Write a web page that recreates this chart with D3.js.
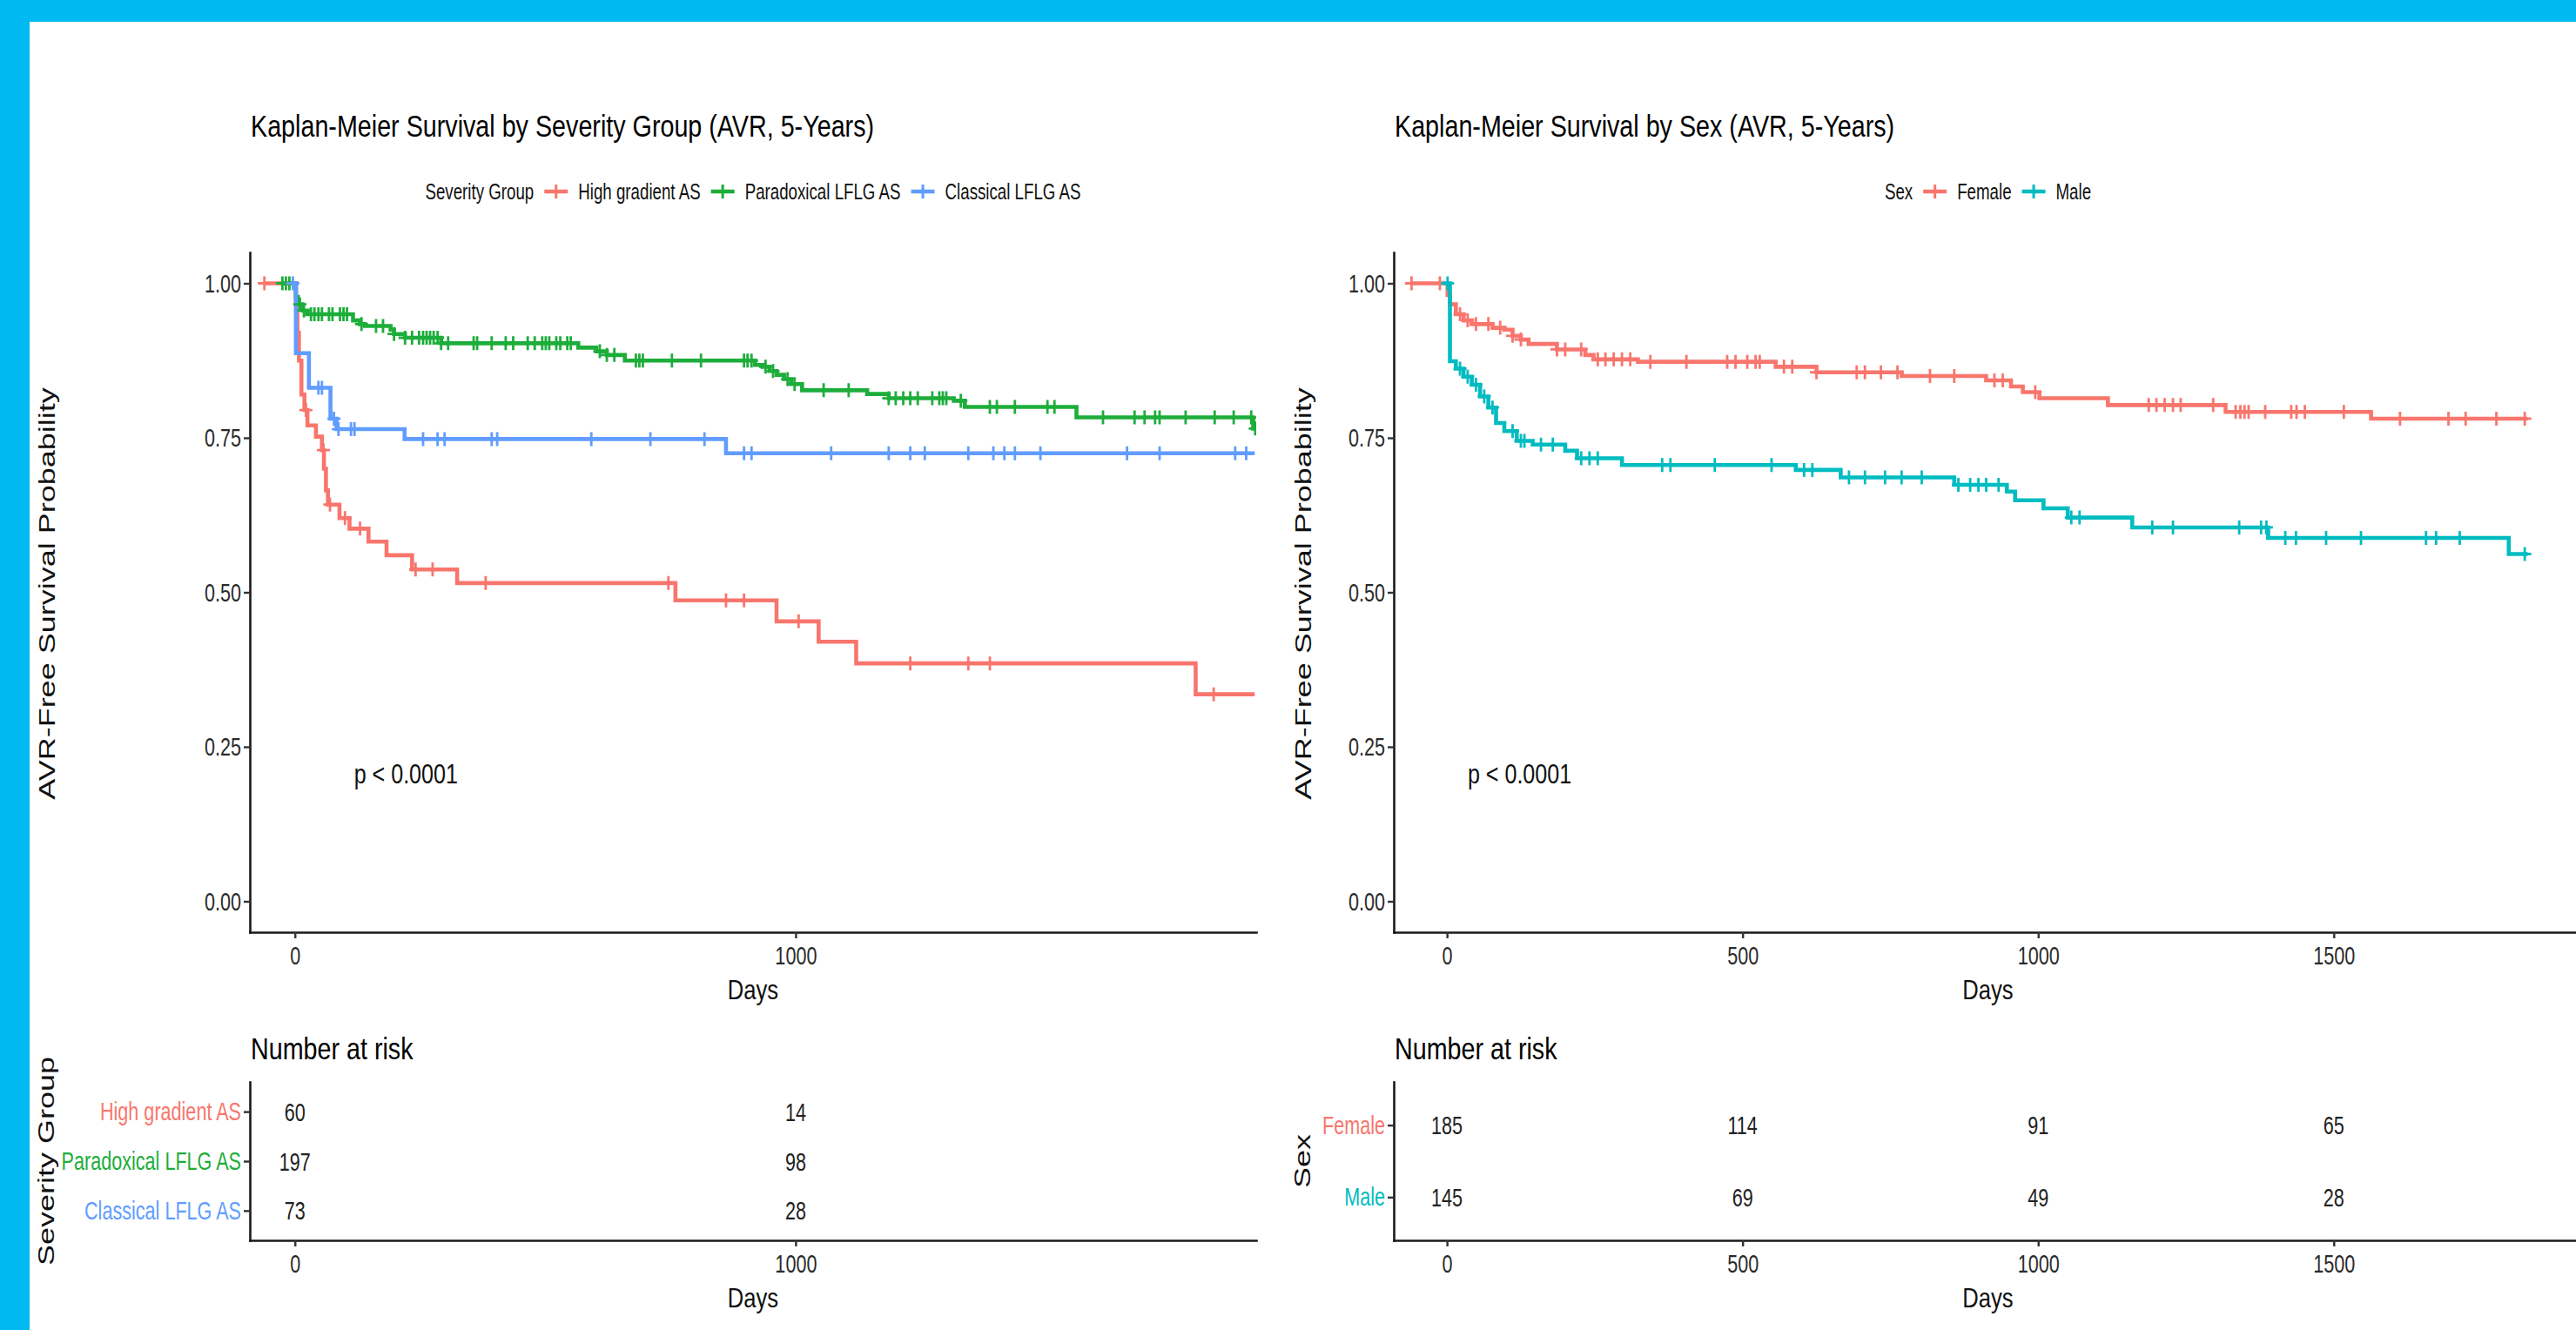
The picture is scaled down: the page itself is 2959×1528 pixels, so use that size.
<!DOCTYPE html>
<html>
<head>
<meta charset="utf-8">
<script src="https://cdn.jsdelivr.net/npm/d3@7"></script>
<style>
  body { margin: 0; background: #00b9f1; }
  svg { display: block; }
  text { font-family: "Liberation Sans", Arial, Helvetica, sans-serif; }
</style>
</head>
<body>
<svg id="chart"></svg>
<script>
// ---- data ----
const survTicks = [0, 0.25, 0.5, 0.75, 1];
const dayDomain = [-90, 1920];

const severityGroups = ["High gradient AS", "Paradoxical LFLG AS", "Classical LFLG AS"];
const severityColors = ["#F8766D", "#1DAD3A", "#619CFF"];
const severityTicks = [0, 1000];
const severityRisk = [[60, 14], [197, 98], [73, 28]];

// [day, survival] at the start of each step; last point closes the curve
const highGradientSteps = [[-61, 1], [2, 0.966], [5, 0.92], [8, 0.875], [13, 0.82], [19, 0.795], [25, 0.77],
  [42, 0.752], [54, 0.73], [58, 0.70], [62, 0.665], [66, 0.642], [89, 0.62], [109, 0.603], [147, 0.582],
  [183, 0.56], [234, 0.537], [324, 0.515], [760, 0.487], [962, 0.453], [1046, 0.42], [1121, 0.385],
  [1799, 0.335], [1917, 0.335]];
const paradoxicalSteps = [[-25, 1], [2, 0.978], [6, 0.966], [15, 0.956], [25, 0.95], [116, 0.94], [130, 0.934],
  [140, 0.931], [191, 0.925], [198, 0.918], [220, 0.912], [292, 0.903], [566, 0.896], [602, 0.89], [623, 0.884],
  [659, 0.875], [919, 0.868], [934, 0.865], [948, 0.858], [962, 0.852], [977, 0.845], [991, 0.837],
  [1013, 0.827], [1143, 0.821], [1186, 0.814], [1316, 0.81], [1338, 0.8], [1561, 0.783], [1914, 0.765],
  [1917, 0.765]];
const classicalSteps = [[-4, 1], [2, 0.887], [28, 0.831], [71, 0.781], [83, 0.764], [219, 0.748],
  [861, 0.725], [1917, 0.725]];

const highGradientCensor = [-61, 22, 57, 70, 100, 130, 241, 275, 381, 746, 861, 897, 1006, 1229, 1345, 1388, 1835];
const paradoxicalCensor = [-25, -18, -11, 10, 18, 32, 39, 47, 54, 68, 75, 90, 97, 104, 133, 162, 176, 198, 220,
  234, 248, 256, 263, 270, 277, 285, 292, 306, 357, 364, 393, 421, 436, 465, 479, 494, 501, 508, 522, 530, 544,
  551, 609, 623, 638, 681, 688, 695, 753, 811, 897, 904, 912, 940, 955, 984, 998, 1056, 1106, 1186, 1200, 1215,
  1229, 1244, 1273, 1287, 1294, 1301, 1330, 1388, 1402, 1438, 1503, 1517, 1614, 1677, 1697, 1718, 1727, 1779,
  1837, 1875, 1910, 1918];
const classicalCensor = [-4, 47, 54, 78, 87, 112, 119, 256, 285, 299, 393, 404, 592, 710, 818, 897, 912, 1071,
  1186, 1229, 1258, 1345, 1395, 1417, 1438, 1489, 1662, 1727, 1878, 1900];

const sexGroups = ["Female", "Male"];
const sexColors = ["#F8766D", "#00BCC0"];
const sexTicks = [0, 500, 1000, 1500];
const sexRisk = [[185, 114, 91, 65], [145, 69, 49, 28]];

const femaleSteps = [[-60, 1], [1, 0.981], [5, 0.966], [15, 0.95], [28, 0.94], [42, 0.934], [77, 0.928],
  [97, 0.925], [111, 0.915], [125, 0.909], [138, 0.902], [186, 0.893], [234, 0.884], [248, 0.877],
  [323, 0.873], [556, 0.865], [625, 0.856], [769, 0.85], [912, 0.843], [954, 0.833], [974, 0.824],
  [1002, 0.814], [1118, 0.803], [1317, 0.792], [1563, 0.781], [1828, 0.781]];
const maleSteps = [[-6, 1], [5, 0.874], [15, 0.862], [28, 0.849], [42, 0.836], [56, 0.817], [70, 0.799],
  [83, 0.774], [97, 0.761], [118, 0.745], [145, 0.739], [200, 0.729], [220, 0.717], [296, 0.706],
  [590, 0.698], [666, 0.686], [858, 0.674], [947, 0.663], [961, 0.649], [1009, 0.636], [1050, 0.621],
  [1159, 0.605], [1389, 0.588], [1796, 0.562], [1828, 0.562]];

const femaleCensor = [-60, -12, 22, 35, 49, 70, 90, 111, 125, 186, 200, 227, 255, 268, 282, 296, 310, 344, 405,
  474, 488, 508, 522, 529, 570, 584, 625, 693, 707, 734, 762, 817, 858, 926, 940, 995, 1187, 1200, 1214, 1228,
  1241, 1296, 1334, 1342, 1349, 1356, 1384, 1428, 1437, 1451, 1517, 1612, 1694, 1723, 1775, 1823];
const maleCensor = [1, 22, 35, 49, 63, 77, 111, 125, 131, 159, 179, 227, 241, 255, 364, 378, 453, 549, 604, 618,
  680, 707, 741, 769, 803, 865, 885, 899, 912, 933, 1056, 1070, 1193, 1228, 1340, 1377, 1386, 1418, 1436, 1487,
  1546, 1656, 1673, 1713, 1823];

// ---- drawing ----
const W = 2959, H = 1528;
const svg = d3.select("#chart").attr("width", W).attr("height", H);
svg.append("rect").attr("width", W).attr("height", H).attr("fill", "#00b9f1");
svg.append("rect").attr("x", 34).attr("y", 25).attr("width", W - 34).attr("height", H - 25).attr("fill", "#fff");

// text squeezed horizontally like the source image
function txt(g, x, y, s, size, k, anchor, color) {
  return g.append("text")
    .attr("transform", `translate(${x},${y}) scale(${k},1)`)
    .attr("font-size", size)
    .attr("text-anchor", anchor || "start")
    .attr("fill", color || "#111")
    .text(s);
}
function rtxt(g, x, y, s, size, k) {
  return g.append("text")
    .attr("transform", `translate(${x},${y}) scale(${k},1) rotate(-90)`)
    .attr("font-size", size)
    .attr("text-anchor", "middle")
    .attr("dominant-baseline", "central")
    .attr("fill", "#111")
    .text(s);
}
function squish(sel, k) {
  sel.each(function () {
    const t = d3.select(this);
    const x = +t.attr("x") || 0, y = +t.attr("y") || 0;
    t.attr("x", null).attr("y", null).attr("transform", `translate(${x},${y}) scale(${k},1)`);
  });
}
function styleAxis(a) {
  a.attr("font-family", null).attr("font-size", 30);
  a.select(".domain").attr("stroke", "#1a1a1a").attr("stroke-width", 2.6).attr("stroke-linecap", "square");
  a.selectAll(".tick line").attr("stroke", "#333").attr("stroke-width", 2.4);
  a.selectAll(".tick text").attr("fill", "#2b2b2b");
  squish(a.selectAll(".tick text"), 0.72);
}

const panels = [
  {
    title: "Kaplan-Meier Survival by Severity Group (AVR, 5-Years)", legendTitle: "Severity Group",
    groups: severityGroups, colors: severityColors,
    steps: [highGradientSteps, paradoxicalSteps, classicalSteps],
    censors: [highGradientCensor, paradoxicalCensor, classicalCensor],
    xRange: [287, 1443], xTicks: severityTicks, risk: severityRisk,
    yTitleX: 54, tableTitleX: 53, pDay: 118
  },
  {
    title: "Kaplan-Meier Survival by Sex (AVR, 5-Years)", legendTitle: "Sex",
    groups: sexGroups, colors: sexColors,
    steps: [femaleSteps, maleSteps],
    censors: [femaleCensor, maleCensor],
    xRange: [1601, 2966], xTicks: sexTicks, risk: sexRisk,
    yTitleX: 1497, tableTitleX: 1496, pDay: 35
  }
];

panels.forEach((p, i) => {
  const g = svg.append("g");
  const x = d3.scaleLinear().domain(dayDomain).range(p.xRange);
  const y = d3.scaleLinear().domain([-0.05, 1.05]).range([1071, 290]);
  const left = p.xRange[0];
  const mid = (p.xRange[0] + p.xRange[1]) / 2;

  // title
  txt(g, left + 1, 157, p.title, 35, 0.82, "start", "#000");

  // legend, centred over the panel
  const lg = g.append("g");
  let cx = 0;
  const t0 = txt(lg, 0, 229, p.legendTitle, 26, 0.72);
  cx += t0.node().getComputedTextLength() * 0.72 + 12;
  p.groups.forEach((name, j) => {
    lg.append("line").attr("x1", cx).attr("x2", cx + 27).attr("y1", 220).attr("y2", 220)
      .attr("stroke", p.colors[j]).attr("stroke-width", 4.5);
    lg.append("line").attr("x1", cx + 13.5).attr("x2", cx + 13.5).attr("y1", 212).attr("y2", 228)
      .attr("stroke", p.colors[j]).attr("stroke-width", 3);
    cx += 27 + 12;
    const t = txt(lg, cx, 229, name, 26, 0.72);
    cx += t.node().getComputedTextLength() * 0.72;
    if (j < p.groups.length - 1) cx += 12;
  });
  lg.attr("transform", `translate(${mid - cx / 2},0)`);

  // curves
  g.append("clipPath").attr("id", "clip" + i).append("rect")
    .attr("x", p.xRange[0]).attr("y", 290).attr("width", p.xRange[1] - p.xRange[0]).attr("height", 781);
  const plot = g.append("g").attr("clip-path", `url(#clip${i})`);
  const line = d3.line().curve(d3.curveStepAfter).x(d => x(d[0])).y(d => y(d[1]));
  p.steps.forEach((st, j) => {
    plot.append("path").datum(st).attr("d", line)
      .attr("fill", "none").attr("stroke", p.colors[j]).attr("stroke-width", 4.6);
  });
  const bis = d3.bisector(d => d[0]).right;
  p.steps.forEach((st, j) => {
    plot.append("g").selectAll("path").data(p.censors[j]).join("path")
      .attr("transform", d => {
        const k = Math.max(0, bis(st, d) - 1);
        return `translate(${x(d)},${y(st[k][1])})`;
      })
      .attr("d", "M-7.5,0H7.5M0,-8V8")
      .attr("stroke", p.colors[j]).attr("stroke-width", 2.8).attr("fill", "none");
  });

  // axes
  const ya = g.append("g").attr("transform", `translate(${left},0)`)
    .call(d3.axisLeft(y).tickValues(survTicks).tickFormat(d3.format(".2f")).tickSize(7).tickPadding(3).tickSizeOuter(0));
  styleAxis(ya);
  const xa = g.append("g").attr("transform", "translate(0,1071)")
    .call(d3.axisBottom(x).tickValues(p.xTicks).tickFormat(d3.format("d")).tickSize(7).tickPadding(9).tickSizeOuter(0));
  styleAxis(xa);

  txt(g, mid, 1148, "Days", 32, 0.8, "middle");
  rtxt(g, p.yTitleX, 682, "AVR-Free Survival Probability", 36, 0.72);
  txt(g, x(p.pDay), 900, "p < 0.0001", 31, 0.81, "start");

  // risk table
  txt(g, left + 1, 1217, "Number at risk", 35, 0.82, "start", "#000");
  const ry = d3.scalePoint().domain(p.groups).range([1243, 1425]).padding(0.6);
  const ra = g.append("g").attr("transform", `translate(${left},0)`)
    .call(d3.axisLeft(ry).tickSize(7).tickPadding(3).tickSizeOuter(0));
  styleAxis(ra);
  ra.selectAll(".tick text").attr("fill", (d, j) => p.colors[j]);
  const rx = g.append("g").attr("transform", "translate(0,1425)")
    .call(d3.axisBottom(x).tickValues(p.xTicks).tickFormat(d3.format("d")).tickSize(7).tickPadding(9).tickSizeOuter(0));
  styleAxis(rx);
  p.groups.forEach((name, j) => {
    p.xTicks.forEach((day, m) => {
      txt(g, x(day), ry(name), p.risk[j][m], 30, 0.72, "middle", "#222").attr("dy", "0.35em");
    });
  });
  txt(g, mid, 1502, "Days", 32, 0.8, "middle");
  rtxt(g, p.tableTitleX, 1334, p.legendTitle, 36, 0.72);
});
</script>
</body>
</html>
